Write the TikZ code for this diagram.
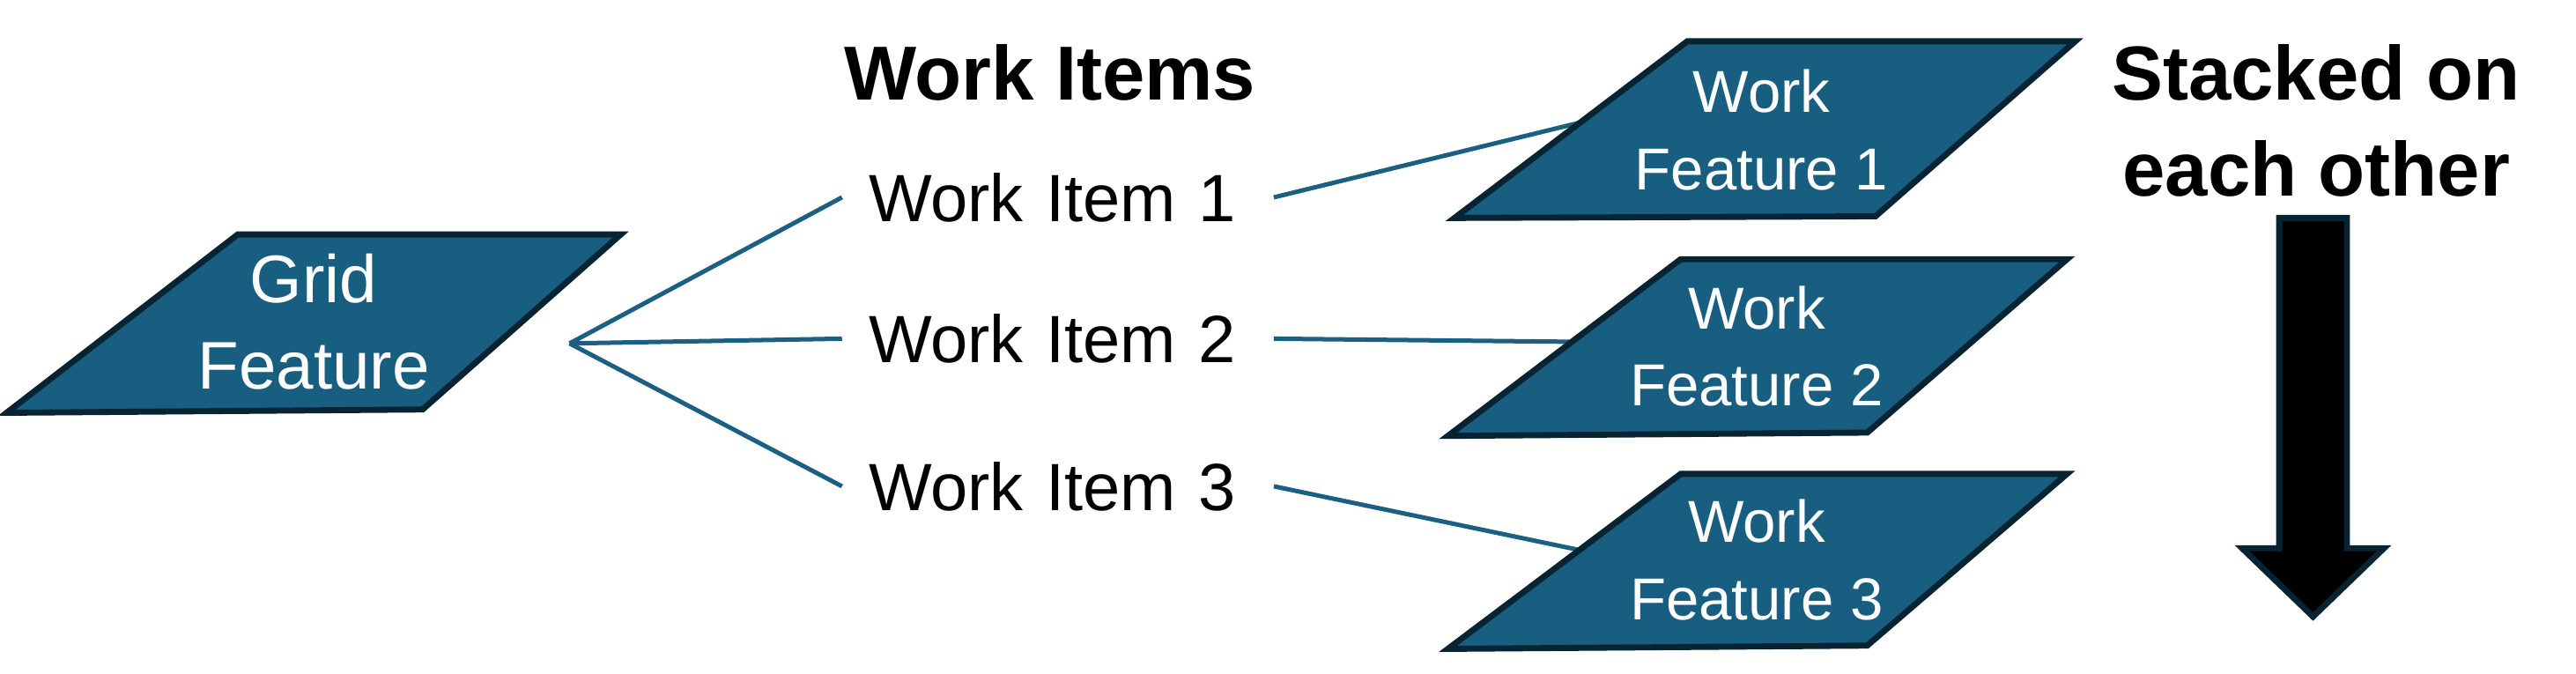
\documentclass[tikz,border=0pt]{standalone}
\usepackage{fontspec}
\setmainfont{Liberation Sans}
\usetikzlibrary{positioning}
\definecolor{featblue}{RGB}{23,94,128}
\definecolor{featedge}{RGB}{8,36,51}
\definecolor{linkblue}{RGB}{27,96,131}
\tikzset{
    feature/.style={
        draw=featedge,
        fill=featblue,
        line width=2.6pt,
        line join=miter},
    feattext/.style={
        text=white,
        align=center,
        inner sep=0pt,
        font=\fontsize{25.5}{33.4}\selectfont},
    item/.style={
        anchor=base west,
        inner xsep=4mm,
        inner ysep=0pt,
        text width=57.25mm,
        align=left,
        font=\fontsize{28.8}{34}\selectfont},
    heading/.style={
        inner sep=0pt,
        align=center,
        font=\bfseries\fontsize{33}{41.3}\selectfont},
    link/.style={
        draw=linkblue,
        line width=1.9pt},
    stackarrow/.style={
        draw=featedge,
        fill=black,
        line width=2.6pt,
        line join=miter}}

\begin{document}
\begin{tikzpicture}[x=0.25mm,y=-0.25mm]
    \useasboundingbox (0,0) rectangle (1560.3,408.2);

    % grid feature
    \draw[feature] (144,142) -- (376,142) -- (256,248) -- (4,250) -- cycle;
    \node[feattext, font=\fontsize{29}{37.2}\selectfont] (grid) at (190,195) {Grid\\Feature};
    \coordinate (fan) at (345,208);

    % work items
    \node[heading, anchor=base west] (items) at (511,60.5) {Work Items};
    \node[item] (wi1) at (510,134) {Work Item 1};
    \node[item] (wi2) at (510,219.6) {Work Item 2};
    \node[item] (wi3) at (510,309) {Work Item 3};

    \draw[link] (fan) -- (wi1.west);
    \draw[link] (fan) -- (wi2.west);
    \draw[link] (fan) -- (wi3.west);

    % work features
    \coordinate (wf1in) at (956,74.5);
    \coordinate (wf2in) at (952,207);
    \coordinate (wf3in) at (956,333);
    \draw[link] (wi1.east) -- (wf1in);
    \draw[link] (wi2.east) -- (wf2in);
    \draw[link] (wi3.east) -- (wf3in);

    \draw[feature] (1022,25) -- (1257,25) -- (1136,131) -- (881,132) -- cycle;
    \draw[feature] (1018,157) -- (1252,157) -- (1131,262) -- (877,264) -- cycle;
    \draw[feature] (1018,287) -- (1252,287) -- (1131,391) -- (877,393) -- cycle;
    \node[feattext] (wf1) at (1067,78.6) {Work\\Feature 1};
    \node[feattext] (wf2) at (1064,209.7) {Work\\Feature 2};
    \node[feattext] (wf3) at (1064,339) {Work\\Feature 3};

    % stacked
    \node[heading] (stacked) at (1403,73.2) {Stacked on\\each other};
    \draw[stackarrow] (1380.5,132) -- (1421.5,132) -- (1421.5,332) -- (1444,332)
        -- (1401,373.5) -- (1358,332) -- (1380.5,332) -- cycle;
\end{tikzpicture}
\end{document}
